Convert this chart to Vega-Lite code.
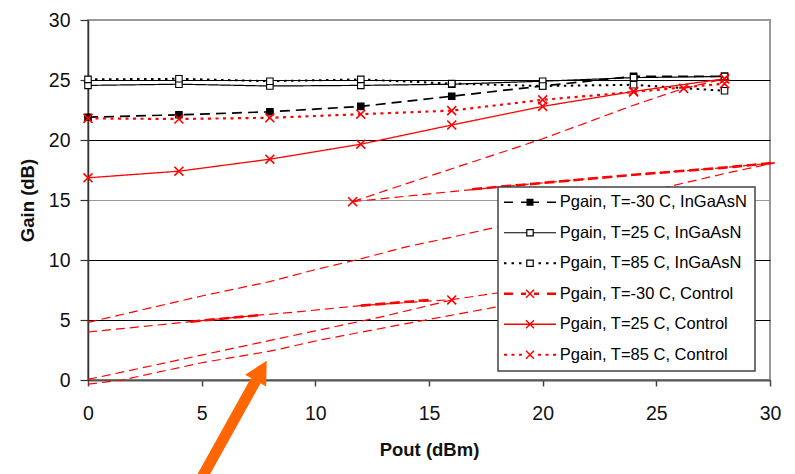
{
  "$schema": "https://vega.github.io/schema/vega-lite/v6.json",
  "autosize": "none",
  "width": 682,
  "height": 360,
  "padding": {"left": 88, "top": 20, "right": 25, "bottom": 94},
  "background": "white",
  "config": {
    "font": "Liberation Sans",
    "view": {"stroke": "#999", "strokeWidth": 2},
    "axis": {"labelFont": "Liberation Sans", "titleFont": "Liberation Sans", "labelColor": "#111", "titleColor": "#111"},
    "legend": {"labelFont": "Liberation Sans"}
  },
  "datasets": {
    "main": [
      {"s": "Pgain, T=-30 C, InGaAsN", "x": 0, "y": 21.9},
      {"s": "Pgain, T=-30 C, InGaAsN", "x": 4, "y": 22.1},
      {"s": "Pgain, T=-30 C, InGaAsN", "x": 8, "y": 22.35},
      {"s": "Pgain, T=-30 C, InGaAsN", "x": 12, "y": 22.8},
      {"s": "Pgain, T=-30 C, InGaAsN", "x": 16, "y": 23.65},
      {"s": "Pgain, T=-30 C, InGaAsN", "x": 20, "y": 24.5},
      {"s": "Pgain, T=-30 C, InGaAsN", "x": 24, "y": 25.3},
      {"s": "Pgain, T=-30 C, InGaAsN", "x": 28, "y": 25.3},
      {"s": "Pgain, T=25 C, InGaAsN", "x": 0, "y": 24.55},
      {"s": "Pgain, T=25 C, InGaAsN", "x": 4, "y": 24.65},
      {"s": "Pgain, T=25 C, InGaAsN", "x": 8, "y": 24.5},
      {"s": "Pgain, T=25 C, InGaAsN", "x": 12, "y": 24.55},
      {"s": "Pgain, T=25 C, InGaAsN", "x": 16, "y": 24.65},
      {"s": "Pgain, T=25 C, InGaAsN", "x": 20, "y": 24.9},
      {"s": "Pgain, T=25 C, InGaAsN", "x": 24, "y": 25.2},
      {"s": "Pgain, T=25 C, InGaAsN", "x": 28, "y": 25.3},
      {"s": "Pgain, T=85 C, InGaAsN", "x": 0, "y": 25.05},
      {"s": "Pgain, T=85 C, InGaAsN", "x": 4, "y": 25.1},
      {"s": "Pgain, T=85 C, InGaAsN", "x": 8, "y": 24.9},
      {"s": "Pgain, T=85 C, InGaAsN", "x": 12, "y": 25.05},
      {"s": "Pgain, T=85 C, InGaAsN", "x": 16, "y": 24.7},
      {"s": "Pgain, T=85 C, InGaAsN", "x": 20, "y": 24.5},
      {"s": "Pgain, T=85 C, InGaAsN", "x": 24, "y": 24.6},
      {"s": "Pgain, T=85 C, InGaAsN", "x": 28, "y": 24.1},
      {"s": "Pgain, T=-30 C, Control", "x": 11.64, "y": 14.86},
      {"s": "Pgain, T=-30 C, Control", "x": 16, "y": 6.67},
      {"s": "Pgain, T=-30 C, Control", "x": 26.2, "y": 24.3},
      {"s": "Pgain, T=-30 C, Control", "x": 28, "y": 25.1},
      {"s": "Pgain, T=25 C, Control", "x": 0, "y": 16.85},
      {"s": "Pgain, T=25 C, Control", "x": 4, "y": 17.4},
      {"s": "Pgain, T=25 C, Control", "x": 8, "y": 18.4},
      {"s": "Pgain, T=25 C, Control", "x": 12, "y": 19.65},
      {"s": "Pgain, T=25 C, Control", "x": 16, "y": 21.25},
      {"s": "Pgain, T=25 C, Control", "x": 20, "y": 22.8},
      {"s": "Pgain, T=25 C, Control", "x": 24, "y": 24.05},
      {"s": "Pgain, T=25 C, Control", "x": 28, "y": 25.1},
      {"s": "Pgain, T=85 C, Control", "x": 0, "y": 21.8},
      {"s": "Pgain, T=85 C, Control", "x": 4, "y": 21.75},
      {"s": "Pgain, T=85 C, Control", "x": 8, "y": 21.85},
      {"s": "Pgain, T=85 C, Control", "x": 12, "y": 22.15},
      {"s": "Pgain, T=85 C, Control", "x": 16, "y": 22.45},
      {"s": "Pgain, T=85 C, Control", "x": 20, "y": 23.35},
      {"s": "Pgain, T=85 C, Control", "x": 24, "y": 24.0},
      {"s": "Pgain, T=85 C, Control", "x": 28, "y": 24.7}
    ],
    "trace": [
      {"k": "a1", "x": 0, "y": 4.8}, {"k": "a1", "x": 5, "y": 7.0}, {"k": "a1", "x": 8, "y": 8.2}, {"k": "a1", "x": 10, "y": 9.2}, {"k": "a1", "x": 12, "y": 10.1}, {"k": "a1", "x": 14, "y": 11.1}, {"k": "a1", "x": 16, "y": 11.9}, {"k": "a1", "x": 18, "y": 12.75}, {"k": "a1", "x": 22, "y": 14.5}, {"k": "a1", "x": 25.5, "y": 16.1}, {"k": "a1", "x": 28, "y": 17.2}, {"k": "a1", "x": 30.2, "y": 18.1},
      {"k": "a2", "x": 11.64, "y": 14.86}, {"k": "a2", "x": 13.43, "y": 16.0}, {"k": "a2", "x": 16, "y": 17.6}, {"k": "a2", "x": 20, "y": 20.1}, {"k": "a2", "x": 24, "y": 22.9}, {"k": "a2", "x": 26.2, "y": 24.3}, {"k": "a2", "x": 28, "y": 25.1},
      {"k": "a3", "x": 11.64, "y": 14.86}, {"k": "a3", "x": 16, "y": 15.7}, {"k": "a3", "x": 19, "y": 16.25}, {"k": "a3", "x": 24, "y": 17.1}, {"k": "a3", "x": 28, "y": 17.7}, {"k": "a3", "x": 30.2, "y": 18.1},
      {"k": "a4", "x": 0, "y": 4.0}, {"k": "a4", "x": 5, "y": 4.95}, {"k": "a4", "x": 7.5, "y": 5.4}, {"k": "a4", "x": 9.33, "y": 5.7}, {"k": "a4", "x": 12, "y": 6.2}, {"k": "a4", "x": 16, "y": 6.7}, {"k": "a4", "x": 18, "y": 7.25}, {"k": "a4", "x": 22, "y": 8.0},
      {"k": "a5", "x": 0, "y": 0.05}, {"k": "a5", "x": 5, "y": 2.08}, {"k": "a5", "x": 10, "y": 4.1}, {"k": "a5", "x": 13, "y": 5.3}, {"k": "a5", "x": 16, "y": 6.67},
      {"k": "a6", "x": 0, "y": -0.35}, {"k": "a6", "x": 1.5, "y": 0.0}, {"k": "a6", "x": 5, "y": 1.44}, {"k": "a6", "x": 8, "y": 2.4}, {"k": "a6", "x": 10.2, "y": 3.33}, {"k": "a6", "x": 14, "y": 4.7}, {"k": "a6", "x": 18, "y": 6.1}, {"k": "a6", "x": 22, "y": 7.5}
    ],
    "thick": [
      {"k": "t1", "x": 4.5, "y": 4.86}, {"k": "t1", "x": 7.5, "y": 5.4},
      {"k": "t2", "x": 12, "y": 6.2}, {"k": "t2", "x": 15, "y": 6.67},
      {"k": "t3", "x": 16.9, "y": 15.9}, {"k": "t3", "x": 19, "y": 16.25}, {"k": "t3", "x": 24, "y": 17.1}, {"k": "t3", "x": 28, "y": 17.7}, {"k": "t3", "x": 30.2, "y": 18.1}
    ],
    "shaft": [{"x": 4.95, "y": -8.33, "x2": 7.38, "y2": -0.05}],
    "head": [{"x": 7.86, "y": 1.61}]
  },
  "encoding": {
    "x": {
      "field": "x", "type": "quantitative",
      "scale": {"domain": [0, 30], "nice": false, "zero": false},
      "axis": {
        "values": [0, 5, 10, 15, 20, 25, 30], "title": "Pout (dBm)", "grid": false,
        "tickSize": 6, "tickColor": "#444", "tickWidth": 1.5,
        "domainColor": "#555", "domainWidth": 2,
        "labelFontSize": 19.5, "labelPadding": 18, "labelFlush": false, "labelOverlap": false,
        "titleFontSize": 18.5, "titleFontWeight": "bold", "titlePadding": 18
      }
    },
    "y": {
      "field": "y", "type": "quantitative",
      "scale": {"domain": [0, 30], "nice": false, "zero": false},
      "axis": {
        "values": [0, 5, 10, 15, 20, 25, 30], "title": "Gain (dB)", "grid": true,
        "gridColor": {"condition": {"test": "datum.value === 15 || datum.value === 30", "value": "#999"}, "value": "#000"},
        "gridWidth": 1.2,
        "tickSize": 8, "tickColor": "#333", "tickWidth": 1.2,
        "domainColor": "#333", "domainWidth": 1.5,
        "labelFontSize": 19.5, "labelPadding": 10, "labelOverlap": false,
        "titleFontSize": 18.5, "titleFontWeight": "bold", "titlePadding": 11
      }
    }
  },
  "layer": [
    {
      "data": {"name": "trace"},
      "mark": {"type": "line", "color": "#ff0000", "strokeWidth": 1.2, "strokeDash": [9, 5]},
      "encoding": {"detail": {"field": "k", "type": "nominal"}}
    },
    {
      "data": {"name": "thick"},
      "mark": {"type": "line", "color": "#ff0000", "strokeWidth": 2.6, "strokeDash": [10, 4.5]},
      "encoding": {"detail": {"field": "k", "type": "nominal"}}
    },
    {
      "data": {"name": "main"},
      "transform": [{"filter": "datum.s !== 'Pgain, T=-30 C, Control'"}],
      "mark": {"type": "line"},
      "encoding": {
        "stroke": {"field": "s", "type": "nominal", "legend": null,
          "scale": {"domain": ["Pgain, T=-30 C, InGaAsN", "Pgain, T=25 C, InGaAsN", "Pgain, T=85 C, InGaAsN", "Pgain, T=25 C, Control", "Pgain, T=85 C, Control"],
                    "range": ["#000000", "#000000", "#000000", "#ff0000", "#ff0000"]}},
        "strokeDash": {"field": "s", "type": "nominal", "legend": null,
          "scale": {"domain": ["Pgain, T=-30 C, InGaAsN", "Pgain, T=25 C, InGaAsN", "Pgain, T=85 C, InGaAsN", "Pgain, T=25 C, Control", "Pgain, T=85 C, Control"],
                    "range": [[10, 6], [1, 0], [2.5, 4.5], [1, 0], [3, 4.5]]}},
        "strokeWidth": {"field": "s", "type": "nominal", "legend": null,
          "scale": {"type": "ordinal", "domain": ["Pgain, T=-30 C, InGaAsN", "Pgain, T=25 C, InGaAsN", "Pgain, T=85 C, InGaAsN", "Pgain, T=25 C, Control", "Pgain, T=85 C, Control"],
                    "range": [1.7, 1.2, 2, 1.3, 2.2]}}
      }
    },
    {
      "data": {"name": "main"},
      "transform": [{"filter": "indexof(datum.s, 'InGaAsN') >= 0"}],
      "mark": {"type": "point", "shape": "square", "size": 42, "stroke": "#000000", "strokeWidth": 1.1, "opacity": 1},
      "encoding": {
        "fill": {"field": "s", "type": "nominal", "legend": null,
          "scale": {"domain": ["Pgain, T=-30 C, InGaAsN", "Pgain, T=25 C, InGaAsN", "Pgain, T=85 C, InGaAsN"],
                    "range": ["#000000", "#ffffff", "#ffffff"]}}
      }
    },
    {
      "data": {"name": "main"},
      "transform": [{"filter": "indexof(datum.s, 'Control') >= 0"}],
      "mark": {"type": "point", "filled": true, "color": "#ff0000", "opacity": 1, "strokeWidth": 0, "size": 5,
        "shape": "M-3.5,-4.5L4.5,3.5L3.5,4.5L-4.5,-3.5Z M-4.5,3.5L3.5,-4.5L4.5,-3.5L-3.5,4.5Z"}
    },
    {
      "data": {"name": "shaft"},
      "mark": {"type": "rule", "color": "#ff6600", "strokeWidth": 11, "strokeCap": "butt"},
      "encoding": {"x2": {"field": "x2"}, "y2": {"field": "y2"}}
    },
    {
      "data": {"name": "head"},
      "mark": {"type": "point", "filled": true, "color": "#ff6600", "opacity": 1, "strokeWidth": 0, "size": 576, "angle": 29,
        "shape": "M0,0L-1,1.9L1,1.9Z"}
    },
    {
      "data": {"name": "main"},
      "mark": {"type": "point", "filled": true, "opacity": 0},
      "encoding": {
        "color": {"field": "s", "type": "nominal",
          "scale": {"domain": ["Pgain, T=-30 C, InGaAsN", "Pgain, T=25 C, InGaAsN", "Pgain, T=85 C, InGaAsN", "Pgain, T=-30 C, Control", "Pgain, T=25 C, Control", "Pgain, T=85 C, Control"],
                    "range": ["#000000", "#000000", "#000000", "#ff0000", "#ff0000", "#ff0000"]},
          "legend": {
            "title": null, "orient": "none", "legendX": 410, "legendY": 167, "direction": "vertical",
            "padding": 7, "fillColor": "#ffffff", "strokeColor": "#444444",
            "symbolSize": 4, "symbolStrokeWidth": 0, "symbolOffset": 16.75, "symbolOpacity": 1,
            "labelOffset": 21.5, "labelFontSize": 16.5, "labelColor": "#000000", "labelLimit": 0,
            "rowPadding": 13.5, "zindex": 1,
            "encode": {"legend": {"update": {"strokeWidth": {"value": 1.5}}}}
          }},
        "shape": {"field": "s", "type": "nominal",
          "scale": {"domain": ["Pgain, T=-30 C, InGaAsN", "Pgain, T=25 C, InGaAsN", "Pgain, T=85 C, InGaAsN", "Pgain, T=-30 C, Control", "Pgain, T=25 C, Control", "Pgain, T=85 C, Control"],
                    "range": [
                      "M-26,-0.85H-17V0.85H-26Z M-9,-0.85H-3.5V0.85H-9Z M3.5,-0.85H9V0.85H3.5Z M17,-0.85H26V0.85H17Z M-3.5,-3.5H3.5V3.5H-3.5Z",
                      "M-26,-0.6H-3.8V0.6H-26Z M3.8,-0.6H26V0.6H3.8Z M-3.8,-3.8H3.8V3.8H-3.8Z M-2.6,-2.6V2.6H2.6V-2.6Z",
                      "M-26,-1H-23.5V1H-26Z M-18.5,-1H-16V1H-18.5Z M-11,-1H-8.5V1H-11Z M8.5,-1H11V1H8.5Z M16,-1H18.5V1H16Z M23.5,-1H26V1H23.5Z M-3.8,-3.8H3.8V3.8H-3.8Z M-2.6,-2.6V2.6H2.6V-2.6Z",
                      "M-26,-1.3H-17V1.3H-26Z M-9,-1.3H-4V1.3H-9Z M4,-1.3H9V1.3H4Z M17,-1.3H26V1.3H17Z M-3.5,-4.5L4.5,3.5L3.5,4.5L-4.5,-3.5Z M-4.5,3.5L3.5,-4.5L4.5,-3.5L-3.5,4.5Z",
                      "M-26,-0.65H26V0.65H-26Z M-3.5,-4.5L4.5,3.5L3.5,4.5L-4.5,-3.5Z M-4.5,3.5L3.5,-4.5L4.5,-3.5L-3.5,4.5Z",
                      "M-26,-1H-23V1H-26Z M-18.5,-1H-15.5V1H-18.5Z M-11,-1H-8V1H-11Z M8,-1H11V1H8Z M15.5,-1H18.5V1H15.5Z M23,-1H26V1H23Z M-3.5,-4.5L4.5,3.5L3.5,4.5L-4.5,-3.5Z M-4.5,3.5L3.5,-4.5L4.5,-3.5L-3.5,4.5Z"
                    ]},
          "legend": {
            "title": null, "orient": "none", "legendX": 410, "legendY": 167, "direction": "vertical",
            "padding": 7, "fillColor": "#ffffff", "strokeColor": "#444444",
            "symbolSize": 4, "symbolStrokeWidth": 0, "symbolOffset": 16.75, "symbolOpacity": 1,
            "labelOffset": 21.5, "labelFontSize": 16.5, "labelColor": "#000000", "labelLimit": 0,
            "rowPadding": 13.5, "zindex": 1
          }}
      }
    }
  ]
}
